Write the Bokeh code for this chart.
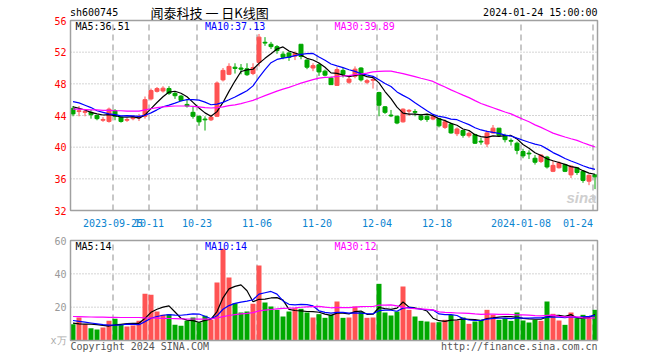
import numpy as np
import pandas as pd
from bokeh.plotting import figure
from bokeh.models import Range1d, ColumnDataSource, Label, BoxAnnotation
from bokeh.layouts import column
from bokeh.embed import file_html
from bokeh.resources import INLINE

# ---------------- data ----------------
dates = (
    ["2023-09-14", "2023-09-15", "2023-09-18", "2023-09-19", "2023-09-20", "2023-09-21", "2023-09-22",
     "2023-09-25", "2023-09-26", "2023-09-27", "2023-09-28"]
    + ["2023-10-%02d" % d for d in [9, 10, 11, 12, 13, 16, 17, 18, 19, 20, 23, 24, 25, 26, 27, 30, 31]]
    + ["2023-11-%02d" % d for d in [1, 2, 3, 6, 7, 8, 9, 10, 13, 14, 15, 16, 17, 20, 21, 22, 23, 24, 27, 28, 29, 30]]
    + ["2023-12-%02d" % d for d in [1, 4, 5, 6, 7, 8, 11, 12, 13, 14, 15, 18, 19, 20, 21, 22, 25, 26, 27, 28, 29]]
    + ["2024-01-%02d" % d for d in [2, 3, 4, 5, 8, 9, 10, 11, 12, 15, 16, 17, 18, 19, 22, 23, 24]]
)

opens = [44.9, 44.5, 44.4, 44.4, 44.0, 43.4, 43.25, 44.6, 43.8, 43.4, 43.6, 43.7, 43.9, 46.1, 47.05, 47.1,
         47.4, 46.8, 46.45, 45.4, 44.4, 43.9, 43.55, 43.45, 43.9, 48.5, 49.2, 50.1, 50.0, 49.9, 49.3, 50.7,
         53.25, 53.0, 52.7, 51.75, 51.9, 51.5, 53.0, 51.0, 50.0, 50.4, 49.6, 48.75, 47.8, 49.7, 48.2, 48.95,
         50.0, 48.2, 48.45, 46.9, 45.1, 44.05, 43.9, 43.2, 44.55, 44.5, 43.95, 43.9, 43.55, 43.6, 42.5, 42.9,
         41.7, 42.1, 41.45, 41.6, 40.75, 40.4, 41.8, 42.4, 41.45, 40.85, 40.5, 39.45, 39.25, 38.6, 38.2, 38.75,
         36.95, 37.4, 37.8, 36.5, 37.4, 36.95, 35.7, 36.5]
highs = [45.2, 45.2, 44.8, 44.7, 44.0, 43.8, 45.0, 44.8, 43.9, 43.7, 44.0, 44.2, 46.4, 47.4, 47.6, 47.7,
         47.7, 47.0, 46.6, 46.0, 45.1, 44.0, 43.9, 44.1, 48.3, 50.0, 50.6, 50.6, 50.5, 50.6, 50.6, 54.3,
         53.9, 53.3, 52.9, 52.1, 52.1, 52.1, 53.0, 51.1, 50.6, 50.6, 49.8, 48.9, 50.1, 50.0, 48.9, 50.2,
         50.1, 48.6, 49.0, 47.0, 45.2, 44.7, 44.0, 44.9, 44.8, 44.8, 44.2, 44.2, 44.15, 43.7, 43.5, 43.1,
         42.5, 42.2, 42.0, 41.7, 41.2, 42.1, 42.8, 42.4, 41.7, 41.1, 40.7, 39.8, 39.6, 39.0, 39.1, 38.9,
         38.3, 38.2, 37.9, 37.7, 37.5, 37.1, 36.55, 36.6]
lows = [43.9, 43.9, 43.9, 43.6, 43.4, 43.2, 43.1, 43.4, 43.1, 43.2, 43.4, 43.3, 43.6, 45.9, 46.9, 46.9,
        46.6, 46.1, 45.8, 45.0, 43.6, 42.7, 42.1, 43.3, 43.8, 48.3, 49.1, 49.3, 49.2, 49.0, 49.1, 50.2,
        52.8, 52.4, 51.8, 51.1, 50.9, 51.0, 51.1, 49.85, 49.6, 49.0, 48.95, 47.9, 47.8, 48.8, 48.0, 48.7,
        48.3, 47.95, 47.4, 43.9, 44.2, 43.8, 42.9, 43.1, 43.95, 43.9, 43.3, 43.2, 43.4, 42.5, 42.3, 41.7,
        41.4, 41.2, 41.2, 40.4, 40.3, 40.0, 41.7, 41.3, 40.6, 40.2, 39.1, 38.6, 38.5, 37.8, 38.0, 37.3,
        36.85, 37.3, 36.85, 36.1, 36.5, 35.5, 35.2, 34.7]
closes = [44.2, 44.6, 44.5, 44.1, 43.6, 43.5, 44.8, 43.9, 43.25, 43.5, 43.8, 43.85, 46.0, 47.15, 47.4, 47.45,
          46.8, 46.5, 45.9, 45.2, 43.9, 43.2, 43.45, 43.8, 48.1, 49.7, 50.2, 49.95, 49.85, 49.15, 50.05, 53.9,
          53.15, 52.7, 52.2, 51.35, 51.35, 51.85, 51.45, 50.1, 50.3, 49.5, 49.1, 47.9, 49.8, 49.2, 48.6, 49.85,
          48.5, 48.4, 48.55, 45.3, 44.4, 43.95, 43.05, 44.8, 44.65, 44.4, 43.5, 43.5, 43.85, 42.7, 43.2, 41.8,
          42.3, 41.5, 41.75, 40.5, 40.65, 41.8, 42.4, 41.5, 40.95, 40.75, 39.6, 38.9, 39.15, 38.1, 39.0, 37.5,
          37.7, 38.0, 36.95, 37.6, 36.8, 35.8, 36.45, 36.25]
volumes = [9.8, 13.8, 9.8, 7.4, 6.6, 7.8, 11.8, 13.0, 9.4, 8.4, 9.0, 11.8, 28.0, 27.4, 17.4, 15.4,
           15.8, 9.4, 8.8, 11.8, 13.8, 11.0, 14.8, 12.4, 34.8, 55.0, 37.8, 22.4, 16.8, 17.4, 22.0, 45.0,
           22.8, 20.4, 18.4, 14.4, 17.4, 19.4, 19.0, 16.8, 13.8, 15.8, 13.6, 15.4, 23.4, 13.6, 13.8, 20.4,
           17.2, 13.6, 13.8, 34.0, 16.8, 15.0, 17.4, 32.4, 18.4, 14.4, 11.8, 11.4, 10.8, 11.0, 12.4, 15.4,
           12.0, 13.8, 10.0, 11.4, 12.4, 18.4, 15.4, 12.4, 13.4, 11.8, 16.8, 12.0, 10.8, 12.4, 11.8, 23.4,
           16.0, 12.0, 9.4, 16.8, 13.4, 15.4, 13.8, 18.4]

# moving-average values read from the chart where the window is not yet full
ma5_head = [45.1, 44.9, 44.7, 44.4]
ma10_head = [45.75, 45.6, 45.3, 45.0, 44.6, 44.4, 44.2, 44.1, 43.95]
ma30_head = [44.8, 44.8, 44.75, 44.7, 44.7, 44.65, 44.65, 44.6, 44.6, 44.55, 44.55, 44.55, 44.7, 44.85,
             45.0, 45.1, 45.15, 45.2, 45.2, 45.2, 45.15, 45.1, 45.0, 44.95, 45.0, 45.1, 45.25, 45.35, 45.5]
vma5_head = [10.4, 10.0, 9.8, 9.8]
vma10_head = [12.0, 11.5, 11.0, 10.5, 10.0, 9.5, 9.2, 9.2, 9.3]
vma30_head = [14.4, 14.3, 14.2, 14.1, 14.0, 14.0, 13.9, 13.9, 13.8, 13.8, 13.8, 13.8, 13.6, 13.5, 13.4,
              13.3, 13.2, 13.1, 13.0, 12.9, 12.9, 12.8, 12.8, 12.9, 13.5, 14.3, 15.0, 15.5, 16.0]

tick_dates = ["2023-09-25", "2023-10-11", "2023-10-23", "2023-11-06", "2023-11-20", "2023-12-04",
              "2023-12-18", "2024-01-08", "2024-01-24"]
tick_labels = ["2023-09-25", "10-11", "10-23", "11-06", "11-20", "12-04", "12-18", "2024-01-08", "01-24"]
price_ticks = [32, 36, 40, 44, 48, 52, 56]
vol_ticks = [0, 20, 40, 60]
vol_tick_labels = ["x万", "20", "40", "60"]

code = "sh600745"
title = "闻泰科技 一 日K线图"
stamp = "2024-01-24 15:00:00"
price_ma_texts = ["MA5:36.51", "MA10:37.13", "MA30:39.89"]
vol_ma_texts = ["MA5:14", "MA10:14", "MA30:12"]
ma_colors = ["#000000", "#0000ff", "#ff00ff"]


# ---------------- derived ----------------
def moving(values, n, head):
    s = pd.Series(values, dtype=float).rolling(n).mean().to_numpy()
    s[:len(head)] = head
    return s


n = len(dates)
idx = np.arange(n)
o = np.array(opens); h = np.array(highs); l = np.array(lows); c = np.array(closes)
RED = "#ff5353"
GREEN = "#00a800"
colors = [RED if cc >= oo else GREEN for oo, cc in zip(o, c)]

price_mas = [moving(closes, 5, ma5_head), moving(closes, 10, ma10_head), moving(closes, 30, ma30_head)]
vol_mas = [moving(volumes, 5, vma5_head), moving(volumes, 10, vma10_head), moving(volumes, 30, vma30_head)]

src = ColumnDataSource(dict(x=idx, o=o, h=h, l=l, c=c,
                            top=np.maximum(o, c), bottom=np.minimum(o, c),
                            vol=np.array(volumes), color=colors))

grid_x = [dates.index(d) - 1 / 3 for d in tick_dates]

# ---------------- layout constants (page pixels) ----------------
W = 652
H1, H2 = 236, 120
LEFT_PX, RIGHT_PX = 70, 597
P_TOP_PX, P_BOT_PX = 20, 210
V_TOP_PX, V_BOT_PX = 240, 340
FIRST_BAR_PX, BAR_PX = 72.5, 6

MONO = "DejaVu Sans Mono"
FS = "10px"
GRID_DOT = "#aaaaaa"
GRID_DASH = "#b4b4b4"
BORDER = "#a0a0a0"
DATE_BLUE = "#0a84d0"


def xp(px):
    return (px - FIRST_BAR_PX) / BAR_PX


def yp(py):
    return 56 - (py - P_TOP_PX) * 24 / (P_BOT_PX - P_TOP_PX)


def yv(py):
    return 60 - (py - V_TOP_PX) * 60 / (V_BOT_PX - V_TOP_PX)


XL, XR = xp(LEFT_PX), xp(RIGHT_PX)
xr = Range1d(xp(0), xp(W))


def base_fig(height, y_range):
    p = figure(width=W, height=height, x_range=xr, y_range=y_range, output_backend="svg",
               toolbar_location=None, x_axis_location=None, y_axis_location=None, min_border=0)
    p.outline_line_color = None
    p.grid.visible = False
    p.background_fill_color = "white"
    p.border_fill_color = "white"
    return p


def lab(p, x, y, text, color="#000000", size=FS, font=MONO, align="left", xo=0, yo=0,
        baseline="middle", style="normal"):
    p.add_layout(Label(x=x, y=y, x_offset=xo, y_offset=yo, text=text, text_color=color,
                       text_font_size=size, text_font=font, text_align=align,
                       text_baseline=baseline, text_font_style=style))


def panel_grid(p, ylo, yhi, hlines):
    p.segment(x0=[XL] * len(hlines), y0=hlines, x1=[XR] * len(hlines), y1=hlines,
              line_color=GRID_DOT, line_dash="1 2", line_width=1)
    p.segment(x0=grid_x, y0=[ylo] * len(grid_x), x1=grid_x, y1=[yhi] * len(grid_x),
              line_color=GRID_DASH, line_dash="6 4", line_width=1.5)
    p.add_layout(BoxAnnotation(left=XL, right=XR, bottom=ylo, top=yhi, fill_alpha=0,
                               line_color=BORDER, line_alpha=1, line_width=1.5))


# ---------------- price panel ----------------
p1 = base_fig(H1, Range1d(yp(H1), yp(0)))
panel_grid(p1, 32, 56, price_ticks[1:-1])

p1.segment(x0="x", y0="l", x1="x", y1="h", line_color="color", line_width=1, source=src)
p1.vbar(x="x", width=4 / 6, top="top", bottom="bottom", fill_color="color",
        line_color="color", line_width=1, source=src)
for m, col in zip(price_mas, ma_colors):
    p1.line(idx, m, line_color=col, line_width=1.2)

# header row
lab(p1, xp(69.5), yp(12), code)
lab(p1, xp(150), yp(12), title, font="Noto Sans CJK SC", size="13px")
lab(p1, XR, yp(12), stamp, align="right")
# y tick labels
for t in price_ticks:
    lab(p1, XL, t, str(t), color="#ff0000", align="right", xo=-4)
# MA legends
for t, col, px in zip(price_ma_texts, ma_colors, [75, 204.5, 334]):
    lab(p1, xp(px), yp(26), t, color=col)
# date labels
for gx, t in zip(grid_x[:-1], tick_labels[:-1]):
    lab(p1, gx, yp(222), t, color=DATE_BLUE, align="center")
lab(p1, grid_x[-1], yp(222), tick_labels[-1], color=DATE_BLUE, align="right")
# watermark
lab(p1, xp(596), yp(205), "sina", color="#cfcfcf", font="Liberation Sans", size="15px",
    align="right", baseline="bottom", style="bold italic")

# ---------------- volume panel ----------------
p2 = base_fig(H2, Range1d(yv(H1 + H2), yv(H1)))
panel_grid(p2, 0, 60, [20, 40])

p2.vbar(x="x", width=5 / 6, top="vol", bottom=0, fill_color="color", line_color=None, source=src)
for m, col in zip(vol_mas, ma_colors):
    p2.line(idx, m, line_color=col, line_width=1.2)

for t, s in zip(vol_ticks, vol_tick_labels):
    lab(p2, XL, t, s, color="#aaaaaa" if t == 0 else "#999999", align="right", xo=-4)
for t, col, px in zip(vol_ma_texts, ma_colors, [75, 204.5, 334]):
    lab(p2, xp(px), yv(246), t, color=col)
lab(p2, XL, yv(346), "Copyright 2024 SINA.COM", color="#555555")
lab(p2, XR, yv(346), "http://finance.sina.com.cn", color="#555555", align="right")

layout = column(p1, p2)
open("out.html", "w").write(file_html(layout, INLINE))
